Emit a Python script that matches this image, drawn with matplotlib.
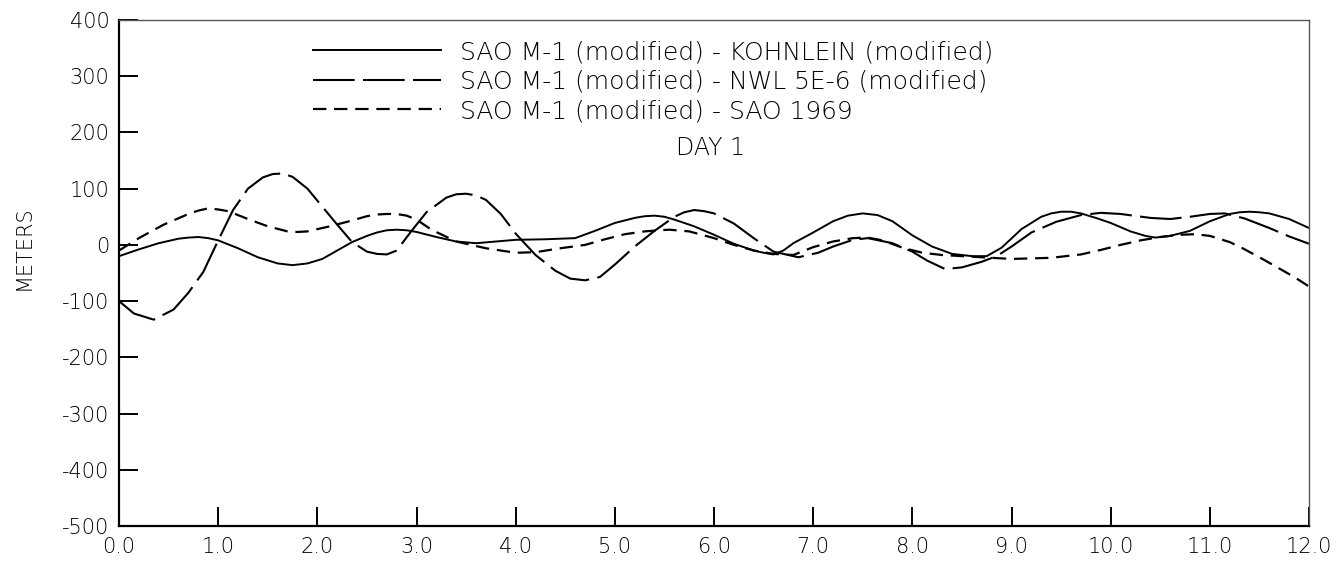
import matplotlib
matplotlib.use("Agg")
import matplotlib.pyplot as plt

plt.rcParams['font.family'] = ['DejaVu Sans']
plt.rcParams['font.weight'] = 'light'
plt.rcParams['axes.labelweight'] = 'light'
plt.rcParams['axes.unicode_minus'] = False

# Day 1 differences (meters) vs time
kohn_x = [0.0, 0.2, 0.4, 0.6, 0.7, 0.8, 0.9, 1.0, 1.2, 1.4, 1.6, 1.75, 1.9, 2.05, 2.2, 2.35,
          2.5, 2.6, 2.7, 2.8, 2.9, 3.0, 3.2, 3.4, 3.6, 3.8, 4.0, 4.3, 4.6, 4.8, 5.0, 5.2,
          5.3, 5.4, 5.5, 5.6, 5.8, 6.0, 6.2, 6.4, 6.5, 6.6, 6.7, 6.8, 7.0, 7.2, 7.35, 7.5,
          7.65, 7.8, 8.0, 8.2, 8.4, 8.6, 8.75, 8.9, 9.1, 9.3, 9.4, 9.5, 9.6, 9.7, 9.85,
          10.0, 10.2, 10.35, 10.45, 10.6, 10.8, 11.0, 11.2, 11.3, 11.4, 11.5, 11.6, 11.8, 12.0]
kohn_y = [-20, -8, 3, 11, 13, 14, 12, 8, -6, -22, -33, -36, -33, -25, -10, 5,
          16, 22, 26, 27, 26, 23, 14, 6, 3, 6, 9, 10, 12, 25, 39, 48,
          51, 52, 50, 45, 33, 18, 2, -10, -14, -17, -10, 3, 22, 42, 52, 56,
          53, 42, 17, -3, -16, -20, -20, -5, 28, 50, 56, 59, 59, 56, 48,
          39, 24, 16, 13, 16, 25, 42, 55, 58, 59, 58, 56, 46, 30]

nwl_x = [0.0, 0.15, 0.35, 0.55, 0.7, 0.85, 1.0, 1.15, 1.3, 1.45, 1.55, 1.65, 1.75, 1.9, 2.05,
         2.2, 2.35, 2.5, 2.6, 2.7, 2.8, 2.95, 3.1, 3.3, 3.4, 3.5, 3.6, 3.7, 3.85, 4.0, 4.2,
         4.4, 4.55, 4.7, 4.85, 5.0, 5.2, 5.4, 5.6, 5.7, 5.8, 5.9, 6.0, 6.2, 6.4, 6.6, 6.85,
         7.05, 7.2, 7.4, 7.55, 7.8, 8.0, 8.15, 8.33, 8.5, 8.7, 8.85, 9.0, 9.2, 9.45, 9.7,
         9.9, 10.1, 10.4, 10.6, 10.8, 11.0, 11.15, 11.35, 11.6, 11.8, 12.0]
nwl_y = [-100, -122, -133, -115, -85, -48, 8, 62, 100, 120, 126, 127, 121, 100, 68,
         36, 5, -12, -16, -17, -10, 25, 58, 84, 90, 91, 88, 80, 55, 20, -18,
         -46, -60, -63, -57, -35, -3, 25, 50, 58, 62, 60, 56, 38, 12, -12, -22,
         -14, -3, 9, 12, 3, -12, -28, -43, -40, -30, -20, -3, 22, 41, 53,
         57, 55, 48, 46, 50, 55, 56, 47, 30, 15, 2]

sao_x = [0.0, 0.2, 0.45, 0.7, 0.8, 0.9, 1.0, 1.1, 1.3, 1.5, 1.7, 1.8, 1.9, 2.1, 2.3, 2.5,
         2.6, 2.7, 2.8, 2.9, 3.0, 3.15, 3.4, 3.7, 4.0, 4.2, 4.45, 4.7, 4.9, 5.1, 5.3,
         5.45, 5.55, 5.75, 6.0, 6.2, 6.4, 6.6, 6.8, 7.0, 7.2, 7.4, 7.55, 7.7, 7.9, 8.1,
         8.3, 8.6, 9.0, 9.4, 9.7, 9.9, 10.1, 10.3, 10.5, 10.7, 10.85, 11.0, 11.2, 11.33,
         11.5, 11.67, 11.85, 12.0]
sao_y = [-10, 12, 36, 55, 61, 65, 63, 60, 46, 33, 24, 23, 24, 32, 41, 51,
         54, 55, 55, 52, 45, 27, 6, -6, -14, -13, -6, 0, 10, 19, 24,
         26, 27, 24, 12, 0, -10, -16, -18, -4, 6, 12, 13, 8, -5, -14,
         -18, -21, -25, -23, -17, -9, 0, 8, 14, 18, 19, 16, 5, -6,
         -22, -39, -57, -74]

labels = ["SAO M-1 (modified) - KOHNLEIN (modified)",
          "SAO M-1 (modified) - NWL 5E-6 (modified)",
          "SAO M-1 (modified) - SAO 1969"]

x_ticks = [0, 1, 2, 3, 4, 5, 6, 7, 8, 9, 10, 11, 12]
y_ticks = [-500, -400, -300, -200, -100, 0, 100, 200, 300, 400]

fig = plt.figure(figsize=(13.36, 5.63), dpi=100)
ax = fig.add_axes([0.0891, 0.0657, 0.8907, 0.8988])

ax.plot(kohn_x, kohn_y, color='black', lw=1.4, label=labels[0],
        solid_joinstyle='round')
ax.plot(nwl_x, nwl_y, color='black', lw=1.5, dashes=(20, 4), label=labels[1],
        dash_joinstyle='round')
ax.plot(sao_x, sao_y, color='black', lw=1.6, dashes=(6, 3.5), label=labels[2],
        dash_joinstyle='round')

ax.set_xlim(0, 12)
ax.set_ylim(-500, 400)
ax.set_xticks(x_ticks)
ax.set_xticklabels([f"{v:.1f}" for v in x_ticks])
ax.set_yticks(y_ticks)
ax.set_yticklabels([str(v) for v in y_ticks])
ax.tick_params(direction='in', length=14, width=1.4, labelsize=15, colors='black')
ax.tick_params(axis='x', pad=8)
ax.tick_params(axis='y', pad=7)

for side in ['left', 'bottom']:
    ax.spines[side].set_linewidth(1.6)
for side in ['top', 'right']:
    ax.spines[side].set_linewidth(1.0)
    ax.spines[side].set_color('#555555')

ax.set_ylabel("METERS", fontsize=15, fontweight='light')
ax.yaxis.set_label_coords(-0.072, 0.55)

ax.legend(loc='upper left', bbox_to_anchor=(0.163, 0.96), frameon=False,
          prop={'size': 18, 'weight': 'light'}, handlelength=5.1, handletextpad=0.77,
          labelspacing=0.22, borderaxespad=0, borderpad=0)
ax.text(0.497, 0.747, "DAY 1", transform=ax.transAxes, ha='center', va='center',
        fontsize=17, fontweight='light')

fig.savefig("out.png", dpi=100)
